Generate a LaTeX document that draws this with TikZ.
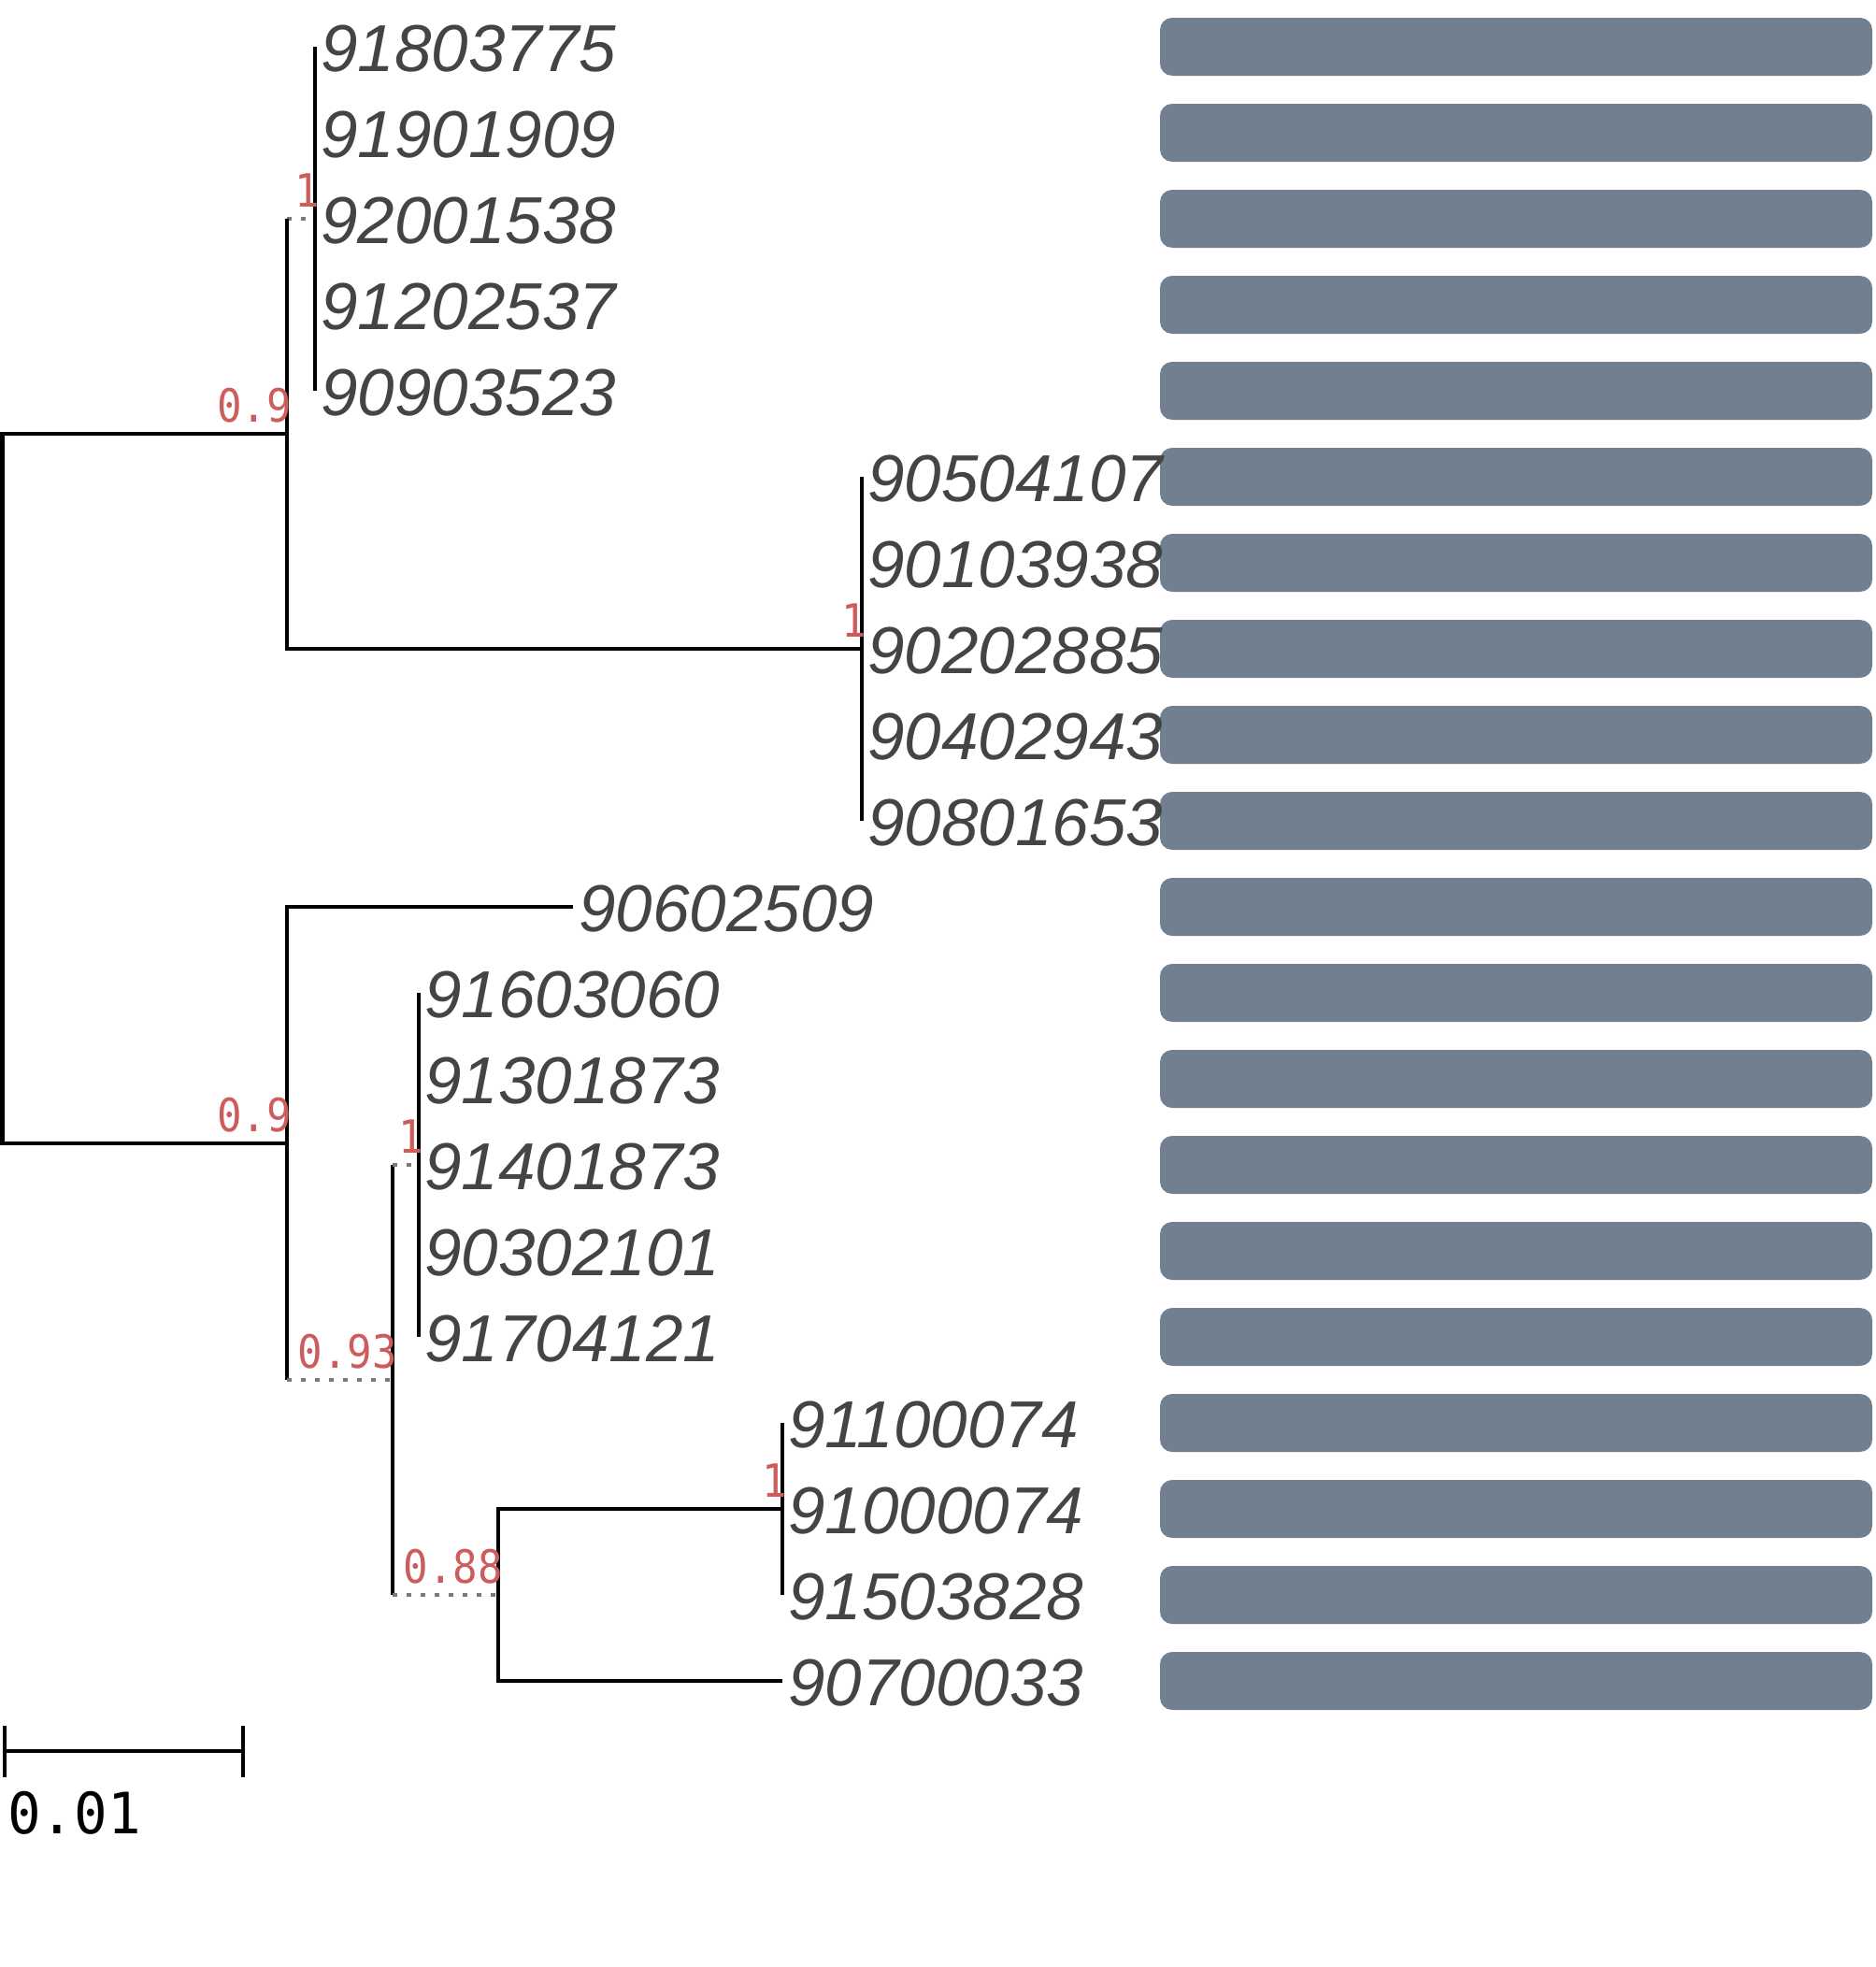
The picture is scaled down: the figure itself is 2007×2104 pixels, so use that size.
\documentclass[tikz,border=0pt]{standalone}
\usepackage{fontspec}
\setmainfont{Liberation Sans}
\newfontfamily\monofam[FakeStretch=0.9]{DejaVu Sans Mono}
\newfontfamily\monofamb[FakeStretch=0.97]{DejaVu Sans Mono}
\usetikzlibrary{calc}
\definecolor{leafgray}{HTML}{444444}
\definecolor{suppred}{HTML}{CD5C5C}
\definecolor{dotgray}{HTML}{7A7A7A}
\definecolor{barslate}{HTML}{708090}
\newcommand\leaffont{\fontsize{71}{80}\selectfont\itshape}
\newcommand\suppfont{\fontsize{49}{56}\selectfont\monofam}
\newcommand\sclfont{\fontsize{61}{70}\selectfont\monofamb}
\tikzset{
  treeline/.style={line width=4.5pt, draw=black},
  dotbranch/.style={line width=4.5pt, draw=dotgray, dash pattern=on 5pt off 10pt},
  leaf/.style={anchor=base west, inner sep=0pt, font=\leaffont, text=leafgray},
  supp/.style={anchor=base east, inner sep=0pt, font=\suppfont, text=suppred},
  barfill/.style={fill=barslate, rounded corners=13pt},
}
\begin{document}
\begin{tikzpicture}[x=1pt,y=-1pt]
\useasboundingbox (0,0) rectangle (2007,2104);
% bars
\foreach \i in {0,...,19}{
  \fill[barfill] (1241,{50+92*\i-31}) rectangle (2003,{50+92*\i+31});
}
% tips
\coordinate (t0) at (337,50);
\coordinate (t1) at (337,142);
\coordinate (t2) at (337,234);
\coordinate (t3) at (337,326);
\coordinate (t4) at (337,418);
\coordinate (t5) at (922,510);
\coordinate (t6) at (922,602);
\coordinate (t7) at (922,694);
\coordinate (t8) at (922,786);
\coordinate (t9) at (922,878);
\coordinate (t10) at (613,970);
\coordinate (t11) at (448,1062);
\coordinate (t12) at (448,1154);
\coordinate (t13) at (448,1246);
\coordinate (t14) at (448,1338);
\coordinate (t15) at (448,1430);
\coordinate (t16) at (837,1522);
\coordinate (t17) at (837,1614);
\coordinate (t18) at (837,1706);
\coordinate (t19) at (837,1798);
% internal nodes
\coordinate (root) at (2.5,843.5);
\coordinate (nU) at (307,464);
\coordinate (nA) at (337,234);
\coordinate (nB) at (922,694);
\coordinate (nL) at (307,1223);
\coordinate (n93) at (420,1476);
\coordinate (nC) at (448,1246);
\coordinate (n88) at (533,1706);
\coordinate (nD) at (837,1614);
% leaf labels
\node[leaf] (l0) at ($(t0)+(6,26)$) {91803775};
\node[leaf] (l1) at ($(t1)+(6,26)$) {91901909};
\node[leaf] (l2) at ($(t2)+(6,26)$) {92001538};
\node[leaf] (l3) at ($(t3)+(6,26)$) {91202537};
\node[leaf] (l4) at ($(t4)+(6,26)$) {90903523};
\node[leaf] (l5) at ($(t5)+(6,26)$) {90504107};
\node[leaf] (l6) at ($(t6)+(6,26)$) {90103938};
\node[leaf] (l7) at ($(t7)+(6,26)$) {90202885};
\node[leaf] (l8) at ($(t8)+(6,26)$) {90402943};
\node[leaf] (l9) at ($(t9)+(6,26)$) {90801653};
\node[leaf] (l10) at ($(t10)+(6,26)$) {90602509};
\node[leaf] (l11) at ($(t11)+(6,26)$) {91603060};
\node[leaf] (l12) at ($(t12)+(6,26)$) {91301873};
\node[leaf] (l13) at ($(t13)+(6,26)$) {91401873};
\node[leaf] (l14) at ($(t14)+(6,26)$) {90302101};
\node[leaf] (l15) at ($(t15)+(6,26)$) {91704121};
\node[leaf] (l16) at ($(t16)+(6,26)$) {91100074};
\node[leaf] (l17) at ($(t17)+(6,26)$) {91000074};
\node[leaf] (l18) at ($(t18)+(6,26)$) {91503828};
\node[leaf] (l19) at ($(t19)+(6,26)$) {90700033};
% tree
\draw[treeline] (nU) -- (nU -| root) -- (nL -| root) -- (nL);
\draw[dotbranch] (nA -| nU) -- (nA);
\draw[treeline] (nA -| nU) -- (nB -| nU) -- (nB);
\draw[treeline] (t0) -- (t4);
\draw[treeline] (t5) -- (t9);
\draw[treeline] (t10) -- (t10 -| nL) -- (n93 -| nL);
\draw[dotbranch] (n93 -| nL) -- (n93);
\draw[treeline] (nC -| n93) -- (n88 -| n93);
\draw[dotbranch] (nC -| n93) -- (nC);
\draw[dotbranch] (n88 -| n93) -- (n88);
\draw[treeline] (t11) -- (t15);
\draw[treeline] (nD) -- (nD -| n88) -- (t19 -| n88) -- (t19);
\draw[treeline] (t16) -- (t18);
% support values
\node[supp] (sU) at ($(nU)+(5,-13)$) {0.9};
\node[supp] (sA) at ($(nA)+(5,-13)$) {1};
\node[supp] (sB) at ($(nB)+(5,-13)$) {1};
\node[supp] (sL) at ($(nL)+(5,-13)$) {0.9};
\node[supp] (s93) at ($(n93)+(5,-13)$) {0.93};
\node[supp] (sC) at ($(nC)+(5,-13)$) {1};
\node[supp] (s88) at ($(n88)+(5,-13)$) {0.88};
\node[supp] (sD) at ($(nD)+(5,-13)$) {1};
% scale bar
\coordinate (sbl) at (5,1873);
\coordinate (sbr) at (260,1873);
\draw[line width=4.5pt] (sbl) -- (sbr);
\draw[line width=4.5pt] ($(sbl)+(0,-27)$) -- ($(sbl)+(0,28)$);
\draw[line width=4.5pt] ($(sbr)+(0,-27)$) -- ($(sbr)+(0,28)$);
\node[anchor=base west, inner sep=0pt, font=\sclfont] (sblab) at (8,1961) {0.01};
\end{tikzpicture}
\end{document}
